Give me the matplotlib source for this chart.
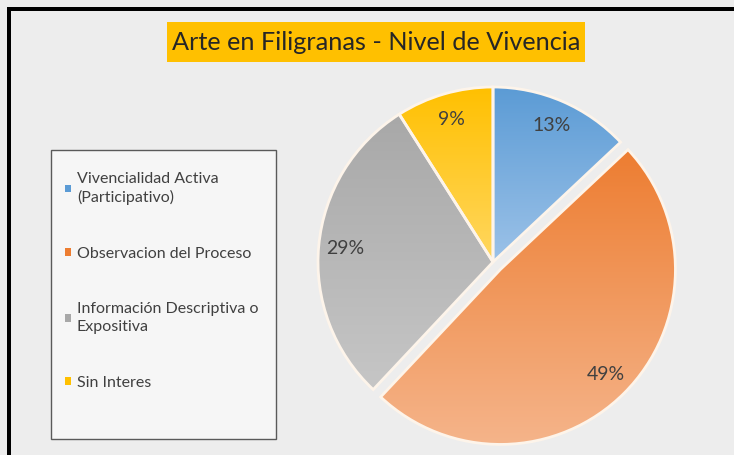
import matplotlib
matplotlib.use('Agg')
import numpy as np
import matplotlib.pyplot as plt
from matplotlib.patches import Rectangle, Patch
from matplotlib.colors import LinearSegmentedColormap

# data
categories = ['Vivencialidad Activa\n(Participativo)', 'Observacion del Proceso',
              'Información Descriptiva o\nExpositiva', 'Sin Interes']
values = [13, 49, 29, 9]
explode = [0, 0.06, 0, 0]
colors_top = ['#5b9bd5', '#ed7d31', '#a8a8a8', '#ffc000']
colors_bottom = ['#9cc2e8', '#f5b48a', '#c6c6c6', '#ffd760']
title = 'Arte en Filigranas - Nivel de Vivencia'

plt.rcParams['font.family'] = ['Lato', 'DejaVu Sans']

W, H = 734, 455
fig = plt.figure(figsize=(W / 100, H / 100), dpi=100)
fig.patch.set_facecolor('#ededed')

# black frame on top and left
fig.add_artist(Rectangle((7 / W, 0), 4 / W, (H - 7) / H, transform=fig.transFigure,
                         facecolor='black', edgecolor='none'))
fig.add_artist(Rectangle((7 / W, (H - 11) / H), (W - 7) / W, 4 / H, transform=fig.transFigure,
                         facecolor='black', edgecolor='none'))

# title with yellow box
fig.add_artist(Rectangle((167 / W, (H - 62) / H), 418 / W, 40 / H, transform=fig.transFigure,
                         facecolor='#ffc000', edgecolor='none'))
fig.text(376 / W, (H - 43) / H, title, ha='center', va='center', fontsize=18.2, color='#262626')

# pie
R = 175
ax = fig.add_axes([(493 - 1.1 * R) / W, (H - 262 - 1.1 * R) / H, 2.2 * R / W, 2.2 * R / H])
ax.set_xlim(-1.1, 1.1)
ax.set_ylim(-1.1, 1.1)
ax.set_aspect('equal')
ax.axis('off')

wedges, texts, autotexts = ax.pie(values, explode=explode, startangle=90, counterclock=False,
                                  colors=colors_top, autopct='%1.0f%%', pctdistance=0.85,
                                  wedgeprops=dict(edgecolor='#fdf4ea', linewidth=2),
                                  textprops=dict(fontsize=14, color='#404040'))

grad = np.linspace(0, 1, 256).reshape(-1, 1)
for w, c0, c1 in zip(wedges, colors_top, colors_bottom):
    bb = w.get_path().get_extents()
    cmap = LinearSegmentedColormap.from_list('g', [c0, c1])
    im = ax.imshow(grad, cmap=cmap, extent=(bb.x0, bb.x1, bb.y0, bb.y1), aspect='auto',
                   origin='upper', zorder=1.5, interpolation='bilinear')
    im.set_clip_path(w)
    w.set_facecolor('none')
    w.set_zorder(2)
for t in autotexts:
    t.set_zorder(4)
ax.set_xlim(-1.1, 1.1)
ax.set_ylim(-1.1, 1.1)

# legend box
fig.add_artist(Rectangle((51 / W, (H - 439) / H), 225 / W, 289 / H, transform=fig.transFigure,
                         facecolor='#f6f6f6', edgecolor='#5a5a5a', linewidth=1))
handles = [Patch(facecolor=c, edgecolor='none') for c in colors_top]
leg = fig.legend(handles, categories, loc='upper left', bbox_to_anchor=(57 / W, (H - 164) / H),
                 frameon=False, fontsize=11.5, handlelength=0.35, handleheight=0.35,
                 handletextpad=0.4, labelspacing=2.6, borderpad=0, labelcolor='#404040')
for t in leg.get_texts():
    t.set_linespacing(1.35)

fig.savefig('out.png', dpi=100, facecolor=fig.get_facecolor())
